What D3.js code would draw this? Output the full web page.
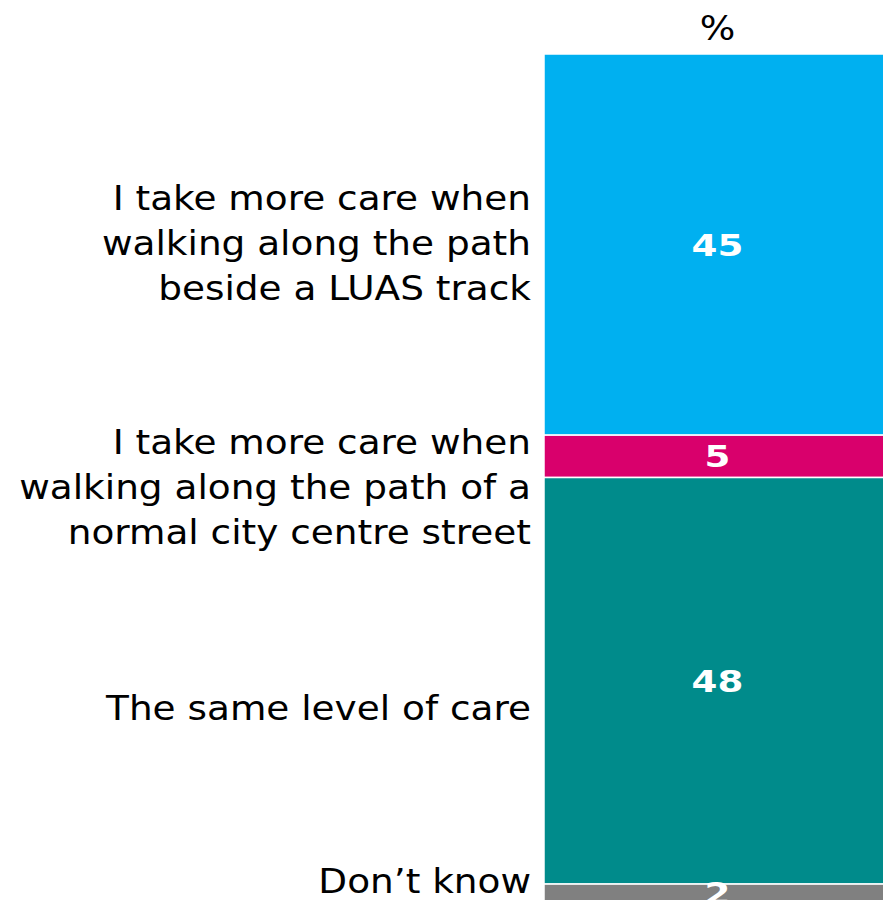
<!DOCTYPE html>
<html><head><meta charset="utf-8">
<script src="https://cdn.jsdelivr.net/npm/d3@7"></script>
<style>html,body{margin:0;padding:0;background:#fff;overflow:hidden}</style>
</head><body>
<script>
const categories = [
  ["I take more care when","walking along the path","beside a LUAS track"],
  ["I take more care when","walking along the path of a","normal city centre street"],
  ["The same level of care"],
  ["Don\u2019t know"]
];
const values = [45, 5, 48, 2];
const colors = ["#00B0F0", "#D9006C", "#008B8B", "#808080"];
const columnLabel = "%";

const W = 883, H = 900;
const svg = d3.select("body").append("svg").attr("width", W).attr("height", H);

const y = d3.scaleLinear().domain([0, 100]).range([54, 901]);
const x0 = 544, x1 = 891;
const cx = (x0 + x1) / 2;

let acc = 0;
const segs = values.map((v, i) => { const s = {i, v, a: acc, b: acc + v}; acc += v; return s; });

svg.selectAll("rect.seg").data(segs).enter().append("rect")
  .attr("x", x0).attr("width", x1 - x0)
  .attr("y", d => y(d.a)).attr("height", d => y(d.b) - y(d.a))
  .attr("fill", d => colors[d.i]).attr("stroke", "#fff").attr("stroke-width", 1.5);

const font = "DejaVu Sans, Verdana, sans-serif";
svg.append("text").attr("x", cx).attr("y", 40).attr("text-anchor", "middle")
  .attr("font-family", font).attr("font-size", 34).attr("fill", "#000")
  .attr("transform", `translate(${cx},0) scale(1.1,1) translate(${-cx},0)`)
  .text(columnLabel);

svg.selectAll("text.val").data(segs).enter().append("text")
  .attr("x", cx).attr("y", d => (y(d.a) + y(d.b)) / 2 + 11)
  .attr("text-anchor", "middle").attr("font-family", font).attr("font-weight", "bold")
  .attr("font-size", 31).attr("fill", "#fff")
  .attr("transform", `translate(${cx},0) scale(1.2,1) translate(${-cx},0)`)
  .text(d => d.v);

// label vertical nudges to avoid overlap (layout only)
const nudge = [-2, 31, 27, -12];
const lx = 531, lh = 45;
segs.forEach(d => {
  const lines = categories[d.i];
  const mid = (y(d.a) + y(d.b)) / 2 + nudge[d.i];
  const t = svg.append("text").attr("text-anchor", "end").attr("font-family", font)
    .attr("font-size", 34).attr("fill", "#000")
    .attr("transform", `translate(${lx},0) scale(1.1,1) translate(${-lx},0)`);
  lines.forEach((ln, k) => {
    t.append("tspan").attr("x", lx)
      .attr("y", mid + (k - (lines.length - 1) / 2) * lh + 12).text(ln);
  });
});
</script>
</body></html>
